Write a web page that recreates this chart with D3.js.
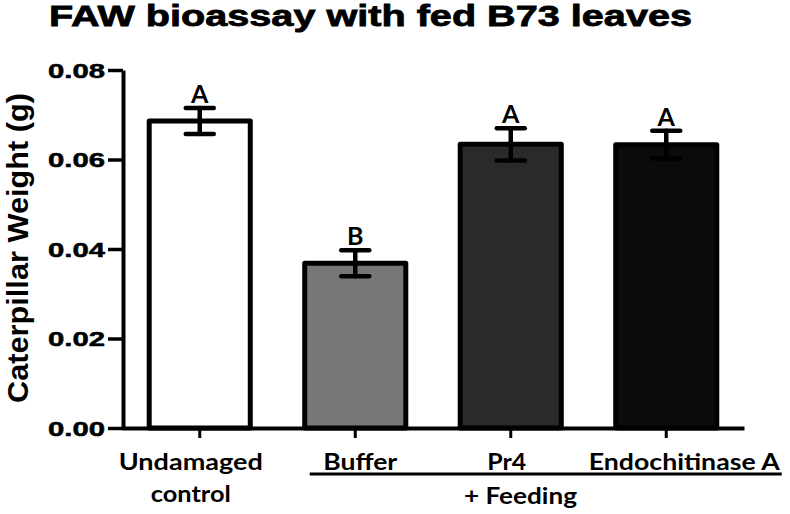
<!DOCTYPE html>
<html>
<head>
<meta charset="utf-8">
<script src="https://cdn.jsdelivr.net/npm/d3@7"></script>
<style>
  html, body { margin: 0; padding: 0; background: #fff; }
  svg { display: block; }
</style>
</head>
<body>
<svg id="chart" width="790" height="514"></svg>
<script>
// ---- data ----
const categories = ["Undamaged control", "Buffer", "Pr4", "Endochitinase A"];
const labelLines = [["Undamaged", "control"], ["Buffer"], ["Pr4"], ["Endochitinase A"]];
const means = [0.0686, 0.0368, 0.0634, 0.0633];
const errors = [0.0029, 0.0029, 0.0036, 0.0031];
const letters = ["A", "B", "A", "A"];
const fills = ["#ffffff", "#777777", "#2a2a2a", "#0b0b0b"];
const yTicks = [0.00, 0.02, 0.04, 0.06, 0.08];
const groupLabel = "+ Feeding";
const groupMembers = ["Buffer", "Pr4", "Endochitinase A"];
const titleText = "FAW bioassay with fed B73 leaves";
const yLabel = "Caterpillar Weight (g)";

// ---- layout ----
const svg = d3.select("#chart");
const x = d3.scaleBand().domain(categories).range([122, 744])
  .paddingInner(0.35).paddingOuter(0.175);
const y = d3.scaleLinear().domain([0, 0.08]).range([428, 70]);

// title
svg.append("text")
  .attr("x", 49).attr("y", 26)
  .attr("font-family", "Liberation Sans, Arial, sans-serif")
  .attr("font-weight", "bold").attr("font-size", 30)
  .attr("stroke", "#000").attr("stroke-width", 0.8)
  .attr("textLength", 643).attr("lengthAdjust", "spacingAndGlyphs")
  .text(titleText);

// y label
svg.append("text")
  .attr("transform", "translate(28,248) rotate(-90)")
  .attr("text-anchor", "middle")
  .attr("font-family", "Liberation Sans, Arial, sans-serif")
  .attr("font-weight", "bold").attr("font-size", 30)
  .attr("textLength", 310).attr("lengthAdjust", "spacingAndGlyphs")
  .text(yLabel);

// bars
svg.append("g").selectAll("rect").data(categories).join("rect")
  .attr("x", d => x(d))
  .attr("width", x.bandwidth())
  .attr("y", (d, i) => y(means[i]))
  .attr("height", (d, i) => y(0) - y(means[i]))
  .attr("fill", (d, i) => fills[i])
  .attr("stroke", "#000").attr("stroke-width", 5)
  .attr("stroke-linejoin", "round");

// error bars
const eg = svg.append("g").attr("stroke", "#000").attr("stroke-linecap", "round");
categories.forEach((c, i) => {
  const cx = x(c) + x.bandwidth() / 2;
  const yt = y(means[i] + errors[i]), yb = y(means[i] - errors[i]);
  eg.append("line").attr("x1", cx).attr("x2", cx).attr("y1", yt).attr("y2", yb).attr("stroke-width", 4.5);
  eg.append("line").attr("x1", cx - 14).attr("x2", cx + 14).attr("y1", yt).attr("y2", yt).attr("stroke-width", 4.5);
  eg.append("line").attr("x1", cx - 14).attr("x2", cx + 14).attr("y1", yb).attr("y2", yb).attr("stroke-width", 4.5);
  svg.append("text")
    .attr("x", cx).attr("y", yt - 5)
    .attr("text-anchor", "middle")
    .attr("font-family", "Lato, sans-serif").attr("font-weight", "bold")
    .attr("font-size", 25)
    .text(letters[i]);
});

// y axis
const yAxis = svg.append("g").attr("transform", "translate(123,0)")
  .call(d3.axisLeft(y).tickValues(yTicks).tickFormat(d3.format(".2f"))
    .tickSize(15).tickSizeOuter(0).tickPadding(3));
yAxis.select(".domain").attr("stroke-width", 4).attr("stroke", "#000");
yAxis.selectAll(".tick line").attr("stroke-width", 3.5).attr("stroke", "#000");
yAxis.selectAll(".tick text")
  .attr("font-family", "Liberation Sans, Arial, sans-serif")
  .attr("font-weight", "bold").attr("font-size", 20.5)
  .attr("fill", "#000").attr("stroke", "#000").attr("stroke-width", 0.5)
  .attr("dy", "0.36em")
  .attr("textLength", 57).attr("lengthAdjust", "spacingAndGlyphs");

// x axis
const xAxis = svg.append("g").attr("transform", "translate(0,428)")
  .call(d3.axisBottom(x).tickFormat("").tickSize(10).tickSizeOuter(0));
xAxis.select(".domain").attr("stroke-width", 4).attr("stroke", "#000");
xAxis.selectAll(".tick line").attr("stroke-width", 3).attr("stroke", "#000");

// category labels
const labelDx = [-9, 5, -4, 18];
const labelWidths = [[144, 80], [74], [39], [191]];
const labelFont = "Lato, sans-serif";
categories.forEach((c, i) => {
  const cx = x(c) + x.bandwidth() / 2 + labelDx[i];
  labelLines[i].forEach((line, j) => {
    svg.append("text")
      .attr("x", cx).attr("y", 470 + j * 32)
      .attr("text-anchor", "middle")
      .attr("font-family", labelFont).attr("font-weight", "bold")
      .attr("font-size", 23.5)
      .attr("textLength", labelWidths[i][j]).attr("lengthAdjust", "spacingAndGlyphs")
      .text(line);
  });
});

// group underline and label
const gx1 = x(groupMembers[0]) + 5;
const lastI = categories.indexOf(groupMembers[groupMembers.length - 1]);
const gx2 = x(categories[lastI]) + x.bandwidth() / 2 + labelDx[lastI] + labelWidths[lastI][0] / 2 + 2;
svg.append("line").attr("x1", gx1).attr("x2", gx2).attr("y1", 474).attr("y2", 474)
  .attr("stroke", "#000").attr("stroke-width", 3);
svg.append("text")
  .attr("x", 520.5).attr("y", 504)
  .attr("text-anchor", "middle")
  .attr("font-family", labelFont).attr("font-weight", "bold")
  .attr("font-size", 23.5)
  .attr("textLength", 113).attr("lengthAdjust", "spacingAndGlyphs")
  .text(groupLabel);
</script>
</body>
</html>
